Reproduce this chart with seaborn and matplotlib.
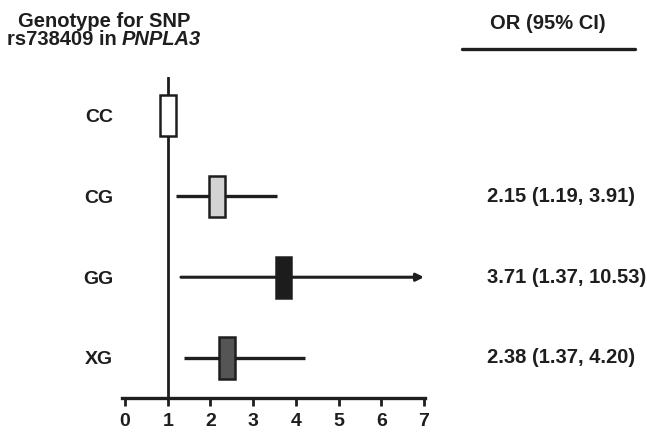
import matplotlib
matplotlib.use("Agg")
import matplotlib.pyplot as plt
import matplotlib.transforms as mtransforms
import seaborn as sns
import pandas as pd

# ---- data ----
genotypes = ["CC", "CG", "GG", "XG"]
odds_ratio = [1.00, 2.15, 3.71, 2.38]
ci_low = [None, 1.19, 1.31, 1.37]
ci_high = [None, 3.55, 7.00, 4.22]
ci_text = ["", "2.15 (1.19, 3.91)", "3.71 (1.37, 10.53)", "2.38 (1.37, 4.20)"]
box_colors = ["#ffffff", "#d3d3d3", "#1c1c1c", "#555555"]
x_ticks = [0, 1, 2, 3, 4, 5, 6, 7]

sns.set_style("white")
plt.rcParams["font.family"] = ["Liberation Sans", "DejaVu Sans"]
plt.rcParams["font.weight"] = "bold"

df = pd.DataFrame({"genotype": genotypes, "or": odds_ratio,
                   "lo": ci_low, "hi": ci_high, "txt": ci_text, "color": box_colors})
df["y"] = [4, 3, 2, 1]

W, H = 647, 432
fig = plt.figure(figsize=(W / 100, H / 100), dpi=100)

# axes: x=0 at 125px, x=7 at 424px; y bottom spine at 398px, top at 77px
left, right = 125, 424
bottom, top = 398, 77
ax = fig.add_axes([left / W, 1 - bottom / H, (right - left) / W, (bottom - top) / H])
ax.set_xlim(0, 7)
ax.set_ylim(0.504, 4.48)

ink = "#1e1e1e"
fs = 14.5

# reference line at OR = 1
ax.axvline(1, color=ink, lw=2.0, zorder=1)

# CI lines
for _, r in df.iterrows():
    if pd.notna(r["lo"]):
        if r["hi"] >= 7:
            ax.annotate("", xy=(r["hi"], r["y"]), xytext=(r["lo"], r["y"]),
                        arrowprops=dict(arrowstyle="-|>", color=ink, lw=2.2,
                                        mutation_scale=11, shrinkA=0, shrinkB=0),
                        zorder=2)
        else:
            ax.hlines(r["y"], r["lo"], r["hi"], color=ink, lw=2.4, zorder=2)

# boxes
bw = 0.37
ax.barh(df["y"], [bw] * len(df), left=df["or"] - bw / 2, height=0.51,
        color=df["color"], edgecolor=ink, linewidth=1.8, zorder=3)

# axes styling
sns.despine(ax=ax, left=True, top=True, right=True)
ax.spines["bottom"].set_linewidth(2.4)
ax.spines["bottom"].set_color(ink)
ax.spines["bottom"].set_bounds(-0.06, 7.03)
ax.set_xticks(x_ticks)
ax.set_xticklabels([str(t) for t in x_ticks], fontsize=14, fontweight="bold", color=ink)
ax.tick_params(axis="x", direction="out", length=6, width=2, color=ink, pad=5, bottom=True)
ax.set_yticks(df["y"])
ax.set_yticklabels(df["genotype"], fontsize=14, fontweight="bold", color=ink)
ax.tick_params(axis="y", length=0, pad=8.5)
ax.grid(False)

# OR text column
trans = mtransforms.blended_transform_factory(fig.transFigure, ax.transData)
for _, r in df.iterrows():
    if r["txt"]:
        ax.text(487 / W, r["y"], r["txt"], transform=trans,
                ha="left", va="center", fontsize=fs, fontweight="bold", color=ink)

# headers
hx = 104
fig.text(hx / W, 1 - 27 / H, "Genotype for SNP", ha="center", va="baseline",
         fontsize=fs, fontweight="bold", color=ink)
fig.canvas.draw()
renderer = fig.canvas.get_renderer()
t1 = fig.text(0, 1 - 45 / H, "rs738409 in ", ha="left", va="baseline",
              fontsize=fs, fontweight="bold", color=ink)
t2 = fig.text(0, 1 - 45 / H, "PNPLA3", ha="left", va="baseline",
              fontsize=fs, fontweight="bold", style="italic", color=ink)
w1 = t1.get_window_extent(renderer).width
w2 = t2.get_window_extent(renderer).width
start = hx - (w1 + w2) / 2
t1.set_x(start / W)
t2.set_x((start + w1) / W)

fig.text(548 / W, 1 - 29 / H, "OR (95% CI)", ha="center", va="baseline",
         fontsize=fs, fontweight="bold", color=ink)
fig.add_artist(plt.Line2D([462 / W, 635 / W], [1 - 49 / H, 1 - 49 / H],
                          color=ink, lw=2.4, transform=fig.transFigure))

fig.savefig("out.png", dpi=100)
